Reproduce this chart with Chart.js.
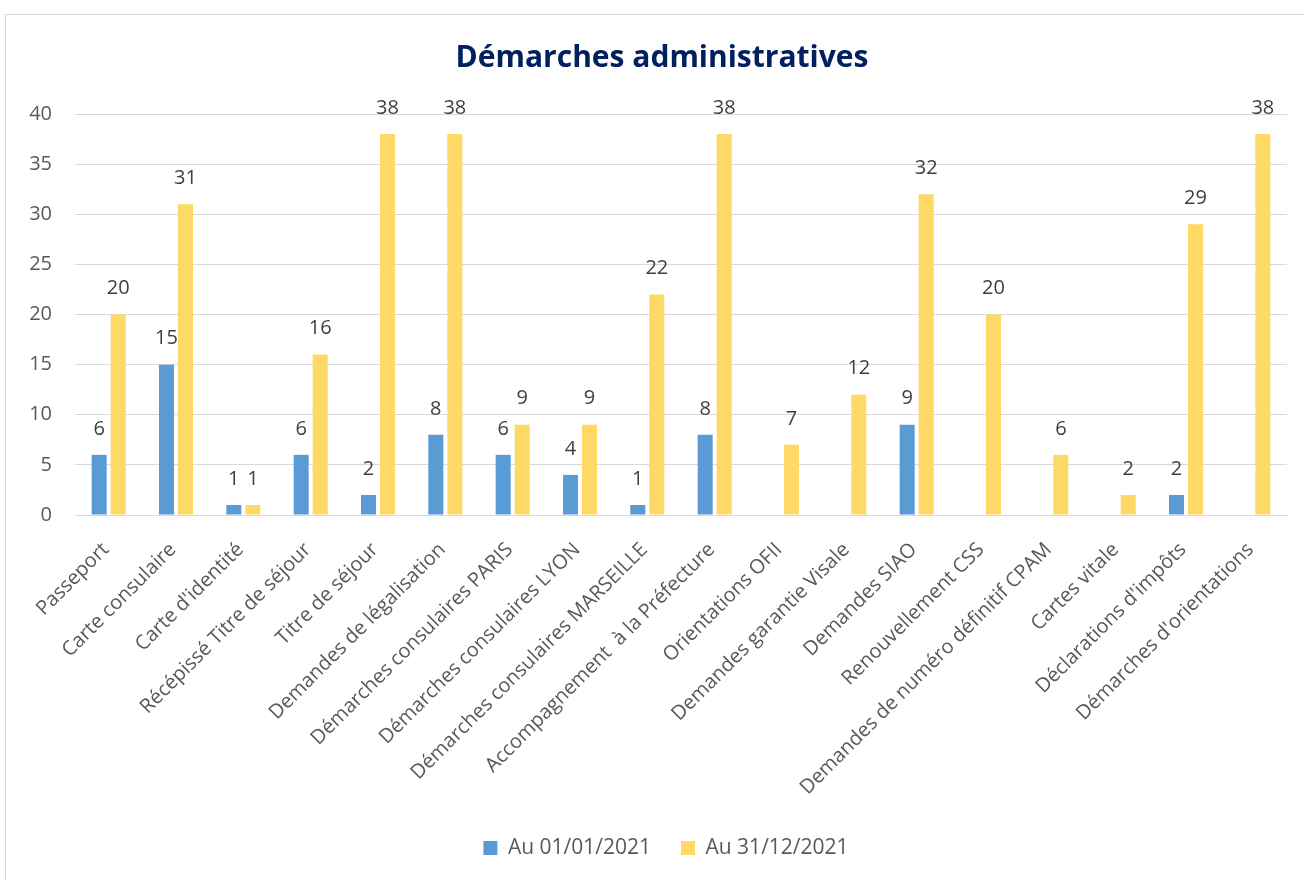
<!DOCTYPE html>
<html>
<head>
<meta charset="utf-8">
<script src="https://cdn.jsdelivr.net/npm/chart.js@4.4.1/dist/chart.umd.min.js"></script>
<style>
  html, body { margin: 0; padding: 0; background: #fff; overflow: hidden; }
  #frame { position: absolute; left: 5px; top: 14px; width: 1400px; height: 1000px; border: 1px solid #d9d9d9; box-sizing: border-box; }
  #wrap { position: absolute; left: 0; top: 0; width: 1304px; height: 880px; }
</style>
</head>
<body>
<div id="frame"></div>
<div id="wrap"><canvas id="c" width="1304" height="880"></canvas></div>
<script>
const categories = [
  "Passeport", "Carte consulaire", "Carte d'identité", "Récépissé Titre de séjour",
  "Titre de séjour", "Demandes de légalisation", "Démarches consulaires PARIS",
  "Démarches consulaires LYON", "Démarches consulaires MARSEILLE",
  "Accompagnement  à la Préfecture", "Orientations OFII", "Demandes garantie Visale",
  "Demandes SIAO", "Renouvellement CSS", "Demandes de numéro définitif CPAM",
  "Cartes vitale", "Déclarations d'impôts", "Démarches d'orientations"
];
const seriesNames = ["Au 01/01/2021", "Au 31/12/2021"];
const valuesStart = [6, 15, 1, 6, 2, 8, 6, 4, 1, 8, null, null, 9, null, null, null, 2, null];
const valuesEnd = [20, 31, 1, 16, 38, 38, 9, 9, 22, 38, 7, 12, 32, 20, 6, 2, 29, 38];
const yTicks = [0, 5, 10, 15, 20, 25, 30, 35, 40];
const chartTitle = "Démarches administratives";

const FONT = "'Open Sans', 'Noto Sans', sans-serif";

const valueLabels = {
  id: 'valueLabels',
  afterDatasetsDraw(chart) {
    const ctx = chart.ctx;
    ctx.save();
    ctx.font = "20px " + FONT;
    ctx.fillStyle = '#404040';
    ctx.textAlign = 'center';
    ctx.textBaseline = 'middle';
    chart.data.datasets.forEach((ds, di) => {
      const meta = chart.getDatasetMeta(di);
      meta.data.forEach((el, i) => {
        const v = ds.data[i];
        if (v === null || v === undefined) return;
        ctx.fillText(String(v), el.x, el.y - 26);
      });
    });
    ctx.restore();
  }
};

// Centre title and legend on the outer chart frame rather than the canvas
const frameCentering = {
  id: 'frameCentering',
  afterLayout(chart) {
    const t = chart.titleBlock;
    if (t) { t.left += 8.5; t.right += 8.5; }
    const l = chart.legend;
    if (l) { l.left += 12.5; l.right += 12.5; }
  }
};

new Chart(document.getElementById('c'), {
  type: 'bar',
  data: {
    labels: categories,
    datasets: [
      { label: seriesNames[0], data: valuesStart, backgroundColor: '#5B9BD5', categoryPercentage: 0.565, barPercentage: 0.79 },
      { label: seriesNames[1], data: valuesEnd, backgroundColor: '#FFD966', categoryPercentage: 0.565, barPercentage: 0.79 }
    ]
  },
  options: {
    responsive: false,
    animation: false,
    layout: { padding: { left: 20, right: 17, top: 0, bottom: 11.5 } },
    plugins: {
      title: {
        display: true,
        text: chartTitle,
        color: '#002060',
        font: { family: FONT, size: 30, weight: 'bold', lineHeight: 1.2 },
        padding: { top: 40, bottom: 38 }
      },
      legend: {
        position: 'bottom',
        labels: {
          boxWidth: 14, boxHeight: 14, padding: 30,
          color: '#595959',
          font: { family: FONT, size: 21 }
        }
      },
      tooltip: { enabled: false }
    },
    scales: {
      x: {
        grid: { display: false, drawTicks: false },
        border: { display: true, color: '#d9d9d9', width: 1 },
        ticks: {
          autoSkip: false, maxRotation: 45, minRotation: 45,
          color: '#595959', font: { family: FONT, size: 20 },
          padding: 23, labelOffset: -3
        },
        afterFit(scale) { scale.height = 292.5; }
      },
      y: {
        min: 0, max: 40,
        afterBuildTicks(scale) { scale.ticks = yTicks.map(v => ({ value: v })); },
        grid: { color: '#d9d9d9', drawTicks: false },
        border: { display: false },
        ticks: { color: '#595959', font: { family: FONT, size: 20 }, padding: 23 },
        afterFit(scale) { scale.width = 55; }
      }
    }
  },
  plugins: [valueLabels, frameCentering]
});
</script>
</body>
</html>
